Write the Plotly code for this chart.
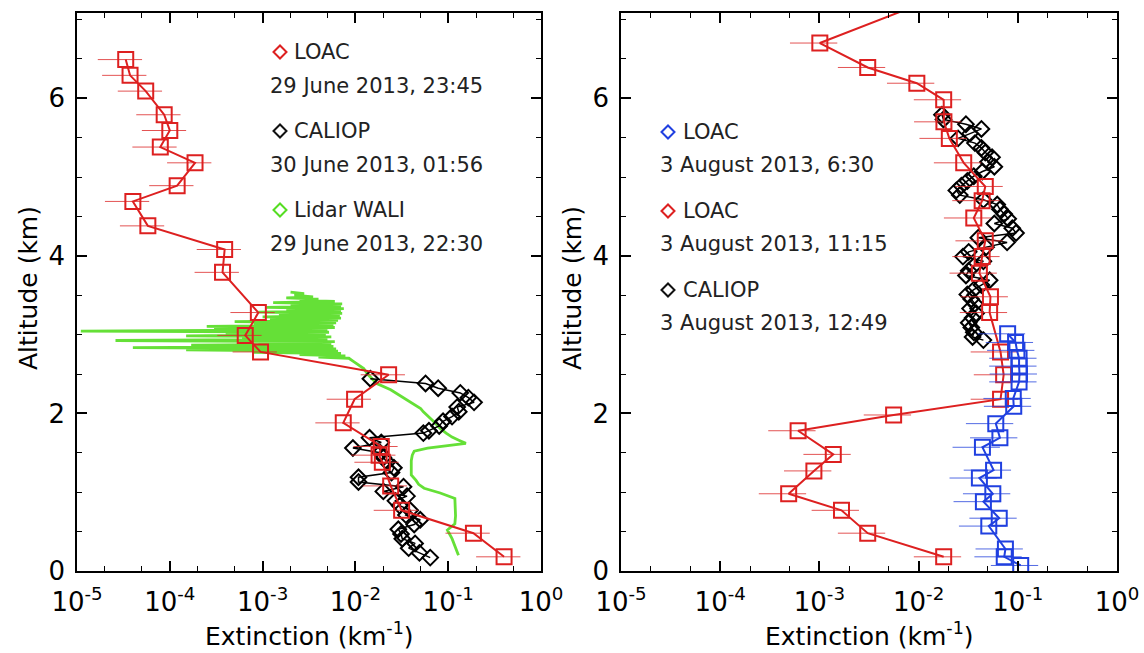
import plotly.graph_objects as go

# ---------------- data ----------------
# Left panel: LOAC 29 June 2013 (red)
loac1_alt = [6.49, 6.29, 6.09, 5.79, 5.59, 5.38, 5.18, 4.89, 4.69, 4.38, 4.08, 3.79,
             3.28, 2.99, 2.78, 2.49, 2.18, 1.88, 1.58, 1.47, 1.38, 1.08, 0.77, 0.48, 0.18]
loac1_ext = [3.35e-5, 3.73e-5, 5.5e-5, 8.7e-5, 1.0e-4, 7.9e-5, 1.87e-4, 1.2e-4, 4.0e-5, 5.8e-5,
             3.9e-4, 3.7e-4, 9.0e-4, 6.5e-4, 9.5e-4, 2.28e-2, 9.8e-3, 7.4e-3, 1.9e-2, 1.8e-2,
             1.95e-2, 2.4e-2, 3.15e-2, 0.187, 0.40]

# Left panel: CALIOP 30 June 2013 (black)
cal1_alt = [2.44, 2.38, 2.32, 2.26, 2.20, 2.14, 2.08, 2.02, 1.96, 1.90, 1.84, 1.78, 1.75,
            1.69, 1.63, 1.56, 1.50, 1.44, 1.38, 1.31, 1.25, 1.19, 1.13, 1.07, 1.01, 0.95,
            0.89, 0.83, 0.77, 0.71, 0.65, 0.59, 0.53, 0.47, 0.41, 0.35, 0.29, 0.23, 0.17]
cal1_ext = [0.0145, 0.057, 0.078, 0.135, 0.165, 0.19, 0.125, 0.13, 0.11, 0.088, 0.08, 0.062,
            0.054, 0.0142, 0.019, 0.0094, 0.0185, 0.020, 0.022, 0.026, 0.0245, 0.0108, 0.0108,
            0.033, 0.020, 0.036, 0.027, 0.030, 0.039, 0.035, 0.050, 0.043, 0.029, 0.031, 0.032,
            0.044, 0.0375, 0.049, 0.064]

# Left panel: Lidar WALI 29 June 2013 (green)
wali_alt = [0.20, 0.30, 0.41, 0.52, 0.60, 0.70, 0.80, 0.92, 0.99, 1.05, 1.10, 1.15, 1.22,
            1.30, 1.40, 1.47, 1.52, 1.56, 1.59, 1.62, 1.66, 1.70, 1.75, 1.81, 1.88, 1.95,
            2.02, 2.06, 2.12, 2.21, 2.30, 2.38, 2.45, 2.50, 2.57, 2.62, 2.66, 2.70,
            2.715, 2.73, 2.745, 2.76, 2.775, 2.79, 2.805, 2.82, 2.835, 2.85, 2.865, 2.88,
            2.895, 2.91, 2.925, 2.94, 2.955, 2.97, 2.985, 3.00, 3.015, 3.03, 3.045, 3.06,
            3.075, 3.09, 3.105, 3.12, 3.135, 3.15, 3.165, 3.18, 3.195, 3.21, 3.225, 3.24,
            3.255, 3.27, 3.285, 3.30, 3.315, 3.33, 3.345, 3.36, 3.375, 3.39, 3.405, 3.42,
            3.435, 3.45, 3.465, 3.48, 3.50, 3.52, 3.54]
wali_ext = [0.129, 0.12, 0.11, 0.098, 0.118, 0.12, 0.12, 0.118, 0.082, 0.055, 0.048, 0.045,
            0.040, 0.040, 0.040, 0.041, 0.043, 0.06, 0.10, 0.155, 0.13, 0.11, 0.095, 0.082,
            0.072, 0.062, 0.054, 0.0505, 0.042, 0.032, 0.024, 0.017, 0.0148, 0.0135, 0.0123,
            0.0105, 0.0095, 0.0085,
            0.004, 0.0078, 0.0025, 0.0070, 0.0008, 0.0065, 0.00015, 0.0062, 0.00004, 0.0058,
            0.00017, 0.0055, 0.0009, 0.0060, 0.000026, 0.0050, 0.0006, 0.0055, 0.00015, 0.0048,
            0.0004, 0.0052, 0.000011, 0.0050, 0.0003, 0.0060, 0.00025, 0.0058, 0.0008, 0.0062,
            0.0005, 0.0065, 0.0012, 0.0070, 0.0010, 0.0068, 0.0015, 0.0072, 0.0009, 0.0070,
            0.0018, 0.0075, 0.0011, 0.0070, 0.0020, 0.0072, 0.0013, 0.0060, 0.0025, 0.0040,
            0.0018, 0.0035, 0.0022, 0.0028, 0.0020]

# Right panel: LOAC 3 August 2013, 6:30 (blue)
loac2_alt = [3.01, 2.90, 2.80, 2.70, 2.60, 2.50, 2.40, 2.19, 2.09, 1.87, 1.69, 1.57,
             1.28, 1.18, 0.98, 0.88, 0.67, 0.57, 0.28, 0.18, 0.07]
loac2_ext = [0.079, 0.095, 0.098, 0.103, 0.103, 0.104, 0.103, 0.090, 0.091, 0.060, 0.066,
             0.044, 0.057, 0.041, 0.056, 0.045, 0.065, 0.051, 0.075, 0.073, 0.107]

# Right panel: LOAC 3 August 2013, 11:15 (red)
loac3_alt = [7.30, 6.70, 6.39, 6.19, 5.98, 5.70, 5.49, 5.18, 4.88, 4.70, 4.48, 4.19, 3.99,
             3.78, 3.48, 3.28, 2.78, 2.49, 2.18, 1.98, 1.78, 1.48, 1.27, 0.98, 0.77, 0.48, 0.18]
loac3_ext = [0.017, 1.01e-3, 3.07e-3, 9.6e-3, 0.0179, 0.018, 0.0204, 0.0285, 0.047, 0.0437,
             0.036, 0.047, 0.0437, 0.041, 0.053, 0.052, 0.067, 0.072, 0.067, 5.6e-3, 6.1e-4,
             1.38e-3, 8.8e-4, 4.9e-4, 1.67e-3, 3.07e-3, 0.0179]

# Right panel: CALIOP 3 August 2013, 12:49 (black)
cal2_alt = [5.79, 5.73, 5.67, 5.61, 5.55, 5.49, 5.43, 5.37, 5.31, 5.25, 5.19, 5.13, 5.07,
            5.01, 4.95, 4.89, 4.83, 4.77, 4.71, 4.65, 4.59, 4.53, 4.47, 4.41, 4.35, 4.29,
            4.23, 4.17, 4.11, 4.05, 3.99, 3.93, 3.87, 3.81, 3.75, 3.69, 3.63, 3.57, 3.51,
            3.45, 3.39, 3.33, 3.27, 3.21, 3.15, 3.09, 3.03, 2.97, 2.93]
cal2_ext = [0.0172, 0.0178, 0.030, 0.043, 0.033, 0.025, 0.037, 0.043, 0.047, 0.055, 0.050,
            0.058, 0.044, 0.036, 0.031, 0.027, 0.024, 0.026, 0.045, 0.062, 0.066, 0.073,
            0.080, 0.058, 0.088, 0.096, 0.040, 0.078, 0.048, 0.032, 0.028, 0.045, 0.036,
            0.032, 0.030, 0.052, 0.043, 0.036, 0.031, 0.034, 0.037, 0.033, 0.038, 0.035,
            0.032, 0.034, 0.036, 0.035, 0.045]

tick_vals = [1e-5, 1e-4, 1e-3, 1e-2, 1e-1, 1]
tick_text = ["10<sup>-5</sup>", "10<sup>-4</sup>", "10<sup>-3</sup>",
             "10<sup>-2</sup>", "10<sup>-1</sup>", "10<sup>0</sup>"]

legend_left = [("LOAC", "29 June 2013, 23:45", "#dd2020"),
               ("CALIOP", "30 June 2013, 01:56", "#111111"),
               ("Lidar WALI", "29 June 2013, 22:30", "#55dd22")]
legend_right = [("LOAC", "3 August 2013, 6:30", "#2040e0"),
                ("LOAC", "3 August 2013, 11:15", "#dd2020"),
                ("CALIOP", "3 August 2013, 12:49", "#111111")]

# ---------------- style ----------------
RED = "#dd2020"
BLUE = "#2040e0"
GREEN = "#55dd22"
FONT = "DejaVu Sans"
W, H = 1144, 653
ML, MR, MT, MB = 77, 27, 13, 82
PW, PH = W - ML - MR, H - MT - MB


def px2paper(px, py):
    return (px - ML) / PW, (H - MB - py) / PH


fig = go.Figure()

# left panel
fig.add_trace(go.Scatter(x=wali_ext, y=wali_alt, mode="lines",
                         line=dict(color=GREEN, width=2.8), xaxis="x", yaxis="y",
                         opacity=0.9))
fig.add_trace(go.Scatter(x=cal1_ext, y=cal1_alt, mode="lines+markers",
                         line=dict(color="black", width=1.5),
                         marker=dict(symbol="diamond-open", size=12, color="black",
                                     line=dict(width=2, color="black")),
                         xaxis="x", yaxis="y"))
fig.add_trace(go.Scatter(x=loac1_ext, y=loac1_alt, mode="lines+markers",
                         line=dict(color=RED, width=2),
                         marker=dict(symbol="square-open", size=15, color=RED,
                                     line=dict(width=2, color=RED)),
                         error_x=dict(type="percent", value=50, thickness=1, width=0,
                                      color="rgba(220,40,40,0.8)"),
                         xaxis="x", yaxis="y"))

# right panel
fig.add_trace(go.Scatter(x=cal2_ext, y=cal2_alt, mode="lines+markers",
                         line=dict(color="black", width=1.5),
                         marker=dict(symbol="diamond-open", size=12, color="black",
                                     line=dict(width=2, color="black")),
                         xaxis="x2", yaxis="y2"))
fig.add_trace(go.Scatter(x=loac3_ext, y=loac3_alt, mode="lines+markers",
                         line=dict(color=RED, width=2),
                         marker=dict(symbol="square-open", size=15, color=RED,
                                     line=dict(width=2, color=RED)),
                         error_x=dict(type="percent", value=50, thickness=1, width=0,
                                      color="rgba(220,40,40,0.8)"),
                         xaxis="x2", yaxis="y2", cliponaxis=True))
fig.add_trace(go.Scatter(x=loac2_ext, y=loac2_alt, mode="lines+markers",
                         line=dict(color=BLUE, width=2),
                         marker=dict(symbol="square-open", size=15, color=BLUE,
                                     line=dict(width=2, color=BLUE)),
                         error_x=dict(type="percent", value=50, thickness=1, width=0,
                                      color="rgba(40,70,220,0.8)"),
                         xaxis="x2", yaxis="y2"))

x_left_dom = [0, (541 - ML) / PW]
x_right_dom = [(621 - ML) / PW, 1]
yr = [0, PH / 78.8]

xcommon = dict(type="log", range=[-5, 0], tickvals=tick_vals, ticktext=tick_text,
               ticks="inside", ticklen=10, tickwidth=1.5, tickcolor="black",
               showline=True, linecolor="black", linewidth=1.5, mirror="allticks",
               showgrid=False, zeroline=False, ticklabelstandoff=7, automargin=False,
               tickfont=dict(family=FONT, size=26, color="black"),
               minor=dict(ticks="inside", ticklen=5, tickwidth=1.2, tickcolor="black",
                          showgrid=False))
ycommon = dict(range=yr, tickvals=[0, 2, 4, 6], ticks="inside", ticklen=10,
               tickwidth=1.5, tickcolor="black", showline=True, linecolor="black",
               linewidth=1.5, mirror="allticks", showgrid=False, zeroline=False,
               ticklabelstandoff=5, automargin=False,
               tickfont=dict(family=FONT, size=26, color="black"),
               minor=dict(ticks="inside", ticklen=5, tickwidth=1.2, tickcolor="black",
                          dtick=0.5, showgrid=False))

fig.update_layout(
    width=W, height=H, margin=dict(l=ML, r=MR, t=MT, b=MB),
    paper_bgcolor="white", plot_bgcolor="white", showlegend=False,
    xaxis=dict(domain=x_left_dom, anchor="y", **xcommon),
    yaxis=dict(domain=[0, 1], anchor="x", **ycommon),
    xaxis2=dict(domain=x_right_dom, anchor="y2", **xcommon),
    yaxis2=dict(domain=[0, 1], anchor="x2", **ycommon),
    font=dict(family=FONT, color="black"),
)

annotations = []
shapes = []


def add_diamond(px, py, color, half=6.5):
    cx, cy = px2paper(px, py)
    dx, dy = half / PW, half / PH
    path = (f"M {cx - dx},{cy} L {cx},{cy + dy} L {cx + dx},{cy} "
            f"L {cx},{cy - dy} Z")
    shapes.append(dict(type="path", path=path, xref="paper", yref="paper",
                       line=dict(color=color, width=2)))


def add_text(px, py, text, size=21):
    x, y = px2paper(px, py)
    annotations.append(dict(x=x, y=y, xref="paper", yref="paper", text=text,
                            showarrow=False, xanchor="left", yanchor="middle",
                            font=dict(family=FONT, size=size, color="#222222")))


for i, (name, date, col) in enumerate(legend_left):
    y0 = 52 + i * 79
    add_diamond(280, y0, col)
    add_text(292, y0, name)
    add_text(268, y0 + 34, date)

for i, (name, date, col) in enumerate(legend_right):
    y0 = 132 + i * 79
    add_diamond(668, y0, col)
    add_text(681, y0, name)
    add_text(658, y0 + 33, date)

# axis titles
for cx in [(77 + 541) / 2, (621 + 1117) / 2]:
    x, y = px2paper(cx, 634)
    annotations.append(dict(x=x, y=y, xref="paper", yref="paper",
                            text="Extinction (km<sup>-1</sup>)", showarrow=False,
                            xanchor="center", yanchor="middle",
                            font=dict(family=FONT, size=25, color="black")))
for px in [28, 572]:
    x, y = px2paper(px, 288)
    annotations.append(dict(x=x, y=y, xref="paper", yref="paper", text="Altitude (km)",
                            showarrow=False, textangle=-90, xanchor="center",
                            yanchor="middle",
                            font=dict(family=FONT, size=25, color="black")))

fig.update_layout(annotations=annotations, shapes=shapes)
fig.write_html("out.html", config={"displayModeBar": False},
               post_script="document.body.style.margin='0px';document.body.style.overflow='hidden';")
